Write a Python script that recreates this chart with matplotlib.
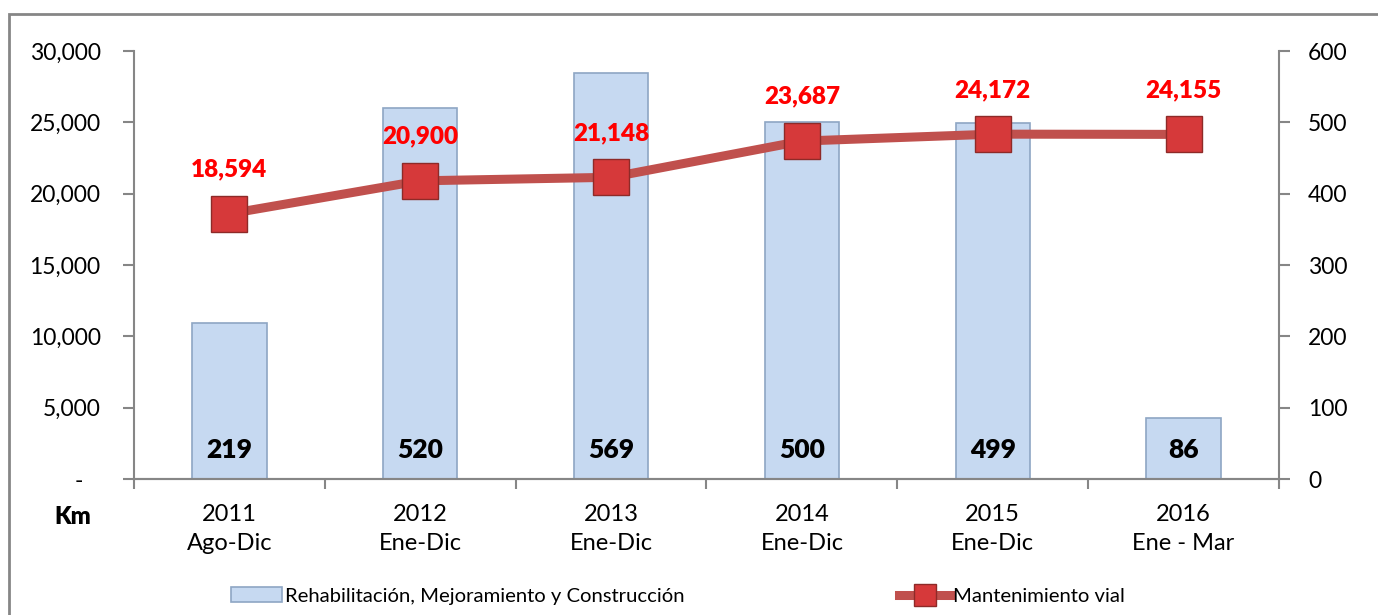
import matplotlib.pyplot as plt
from matplotlib.patches import Rectangle
from matplotlib.ticker import FuncFormatter, FixedLocator

plt.rcParams['font.family'] = ['Lato', 'DejaVu Sans']

# data
years = ['2011\nAgo-Dic', '2012\nEne-Dic', '2013\nEne-Dic', '2014\nEne-Dic', '2015\nEne-Dic', '2016\nEne - Mar']
rehab_km = [219, 520, 569, 500, 499, 86]
mant_km = [18594, 20900, 21148, 23687, 24172, 24155]
bar_name = 'Rehabilitación, Mejoramiento y Construcción'
line_name = 'Mantenimiento vial'

fig = plt.figure(figsize=(13.78, 6.15), dpi=100)
ax1 = fig.add_axes([134 / 1378, 1 - 479 / 615, (1279 - 134) / 1378, (479 - 51) / 615])
ax2 = ax1.twinx()
ax1.set_zorder(ax2.get_zorder() + 1)
ax1.patch.set_visible(False)

x = list(range(len(years)))

# bars on the right axis
bars = ax2.bar(x, rehab_km, width=0.39, color='#C6D9F1', edgecolor='#8EA6C4',
               linewidth=1.2, label=bar_name)
for xi, v in zip(x, rehab_km):
    ax2.text(xi, 40, f'{v}', ha='center', va='center', fontsize=19,
             fontweight='heavy', color='black')

# line on the left axis
line, = ax1.plot(x, mant_km, color='#C0504D', linewidth=6.5, marker='s',
                 markersize=26, markerfacecolor='#D6393A', markeredgecolor='#8E2A28',
                 markeredgewidth=1, label=line_name, zorder=3)
for xi, v in zip(x, mant_km):
    ax1.annotate(f'{v:,}', (xi, v), xytext=(0, 24), textcoords='offset points',
                 ha='center', va='bottom', fontsize=17.5, fontweight='heavy', color='#FF0000')

ax1.set_xlim(-0.5, len(years) - 0.5)
ax1.set_ylim(0, 30000)
ax2.set_ylim(0, 600)
ax1.set_yticks(range(0, 30001, 5000))
ax2.set_yticks(range(0, 601, 100))
ax1.yaxis.set_major_formatter(FuncFormatter(lambda v, p: '-   ' if v == 0 else f'{int(v):,}'))

ax1.set_xticks(x)
ax1.set_xticklabels(years, linespacing=1.5)
ax1.xaxis.set_minor_locator(FixedLocator([i + 0.5 for i in range(-1, len(years))]))
ax1.tick_params(axis='x', which='major', length=0, pad=18, labelsize=17)
ax1.tick_params(axis='x', which='minor', length=7, direction='out', color='#868686', width=1.5)
ax1.tick_params(axis='y', length=8, width=1.5, color='#868686', pad=16, labelsize=16.5)
ax2.tick_params(axis='y', length=8, width=1.5, color='#868686', pad=13, labelsize=16.5)

for ax in (ax1, ax2):
    ax.spines['top'].set_visible(False)
    for s in ('left', 'right', 'bottom'):
        ax.spines[s].set_color('#868686')
        ax.spines[s].set_linewidth(1.5)
ax1.spines['right'].set_visible(False)
ax2.spines['left'].set_visible(False)

fig.text(73 / 1378, 1 - 517 / 615, 'Km', ha='center', va='center', fontsize=17, fontweight='heavy')

fig.legend(handles=[bars, line], labels=[bar_name, line_name], loc='center',
           bbox_to_anchor=(0.492, 1 - 596 / 615), ncol=2, frameon=False, fontsize=14.6,
           handlelength=2.5, handletextpad=0.15, columnspacing=10.6, markerscale=0.6)

# outer frame
fig.patches.append(Rectangle((9 / 1378, -0.05), 1.2, 1 - 14 / 615 + 0.05, transform=fig.transFigure,
                             fill=False, edgecolor='#868686', linewidth=2))

fig.savefig('out.png', dpi=100)
